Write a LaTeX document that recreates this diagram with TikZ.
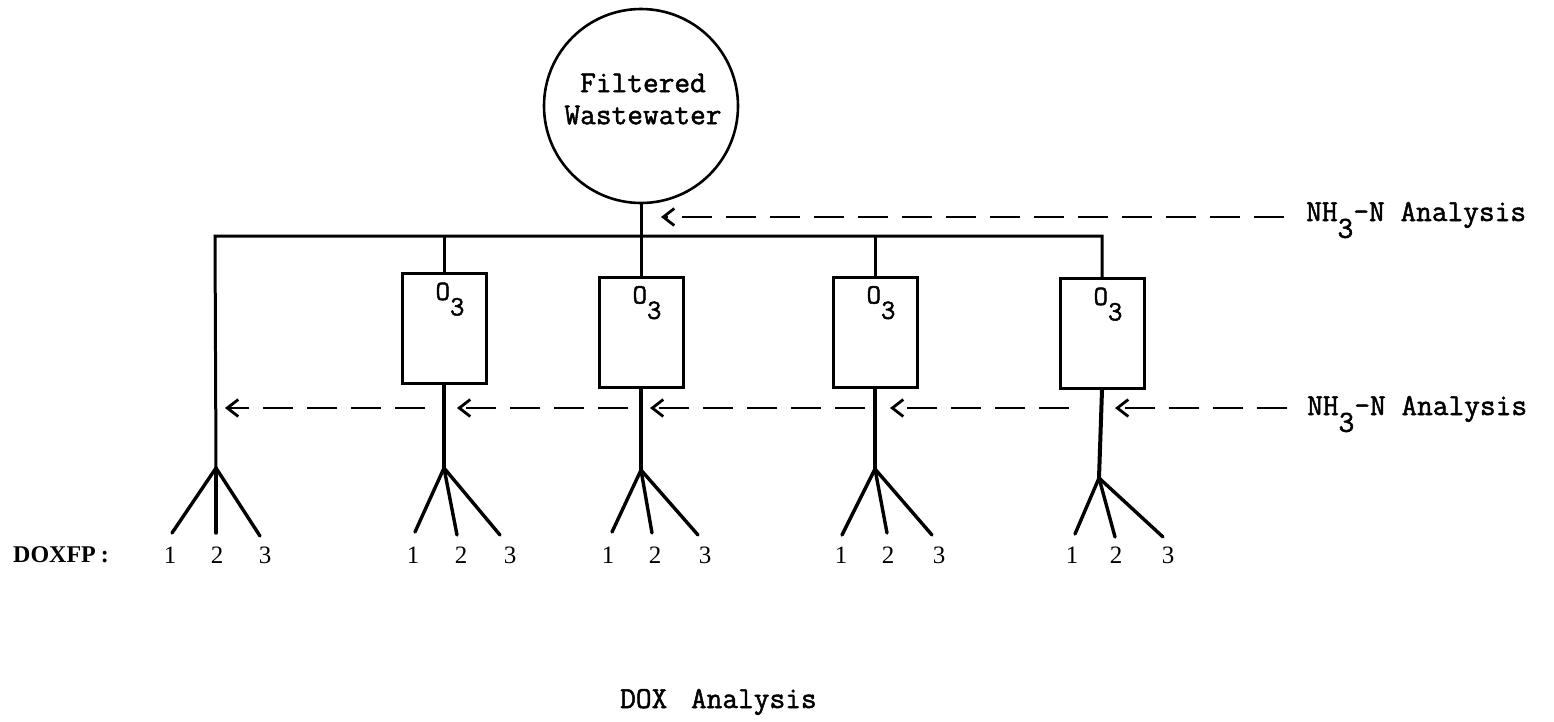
\documentclass[tikz,border=0pt]{standalone}
\usepackage{fontspec}
\setmainfont{Liberation Serif}
\newfontfamily\typefont[FakeBold=1.6]{Latin Modern Mono}
\usetikzlibrary{arrows.meta}
% typewriter-style lowered index (full-size digit dropped below the line)
\newcommand{\dropsub}[1]{\raisebox{-0.55em}{#1}}

\begin{document}
\begin{tikzpicture}[x=1pt,y=-1pt,
  pipe/.style={line width=3pt},
  heavypipe/.style={line width=4pt},
  branch/.style={line width=3.4pt,line cap=round},
  reactor/.style={draw,line width=3pt,minimum width=84pt,minimum height=110pt,inner sep=0pt},
  sample/.style={line width=2.8pt,dash pattern=on 30pt off 14pt,
    -{Straight Barb[length=11pt,width=17pt,line width=2.8pt]}},
  tw/.style={font=\typefont\fontsize{30.5}{32}\selectfont,inner sep=0pt},
  ozone/.style={font=\typefont\fontsize{28}{32}\selectfont,inner sep=0pt,anchor=base},
  num/.style={font=\fontsize{25}{29}\selectfont,inner sep=0pt,anchor=base}
]
\useasboundingbox (0,0) rectangle (1554,721);

% feed tank
\node[circle,draw,line width=2.6pt,minimum size=194pt,inner sep=0pt] (src) at (641,106) {};
\node[tw,align=center] (srctext) at (643,99) {Filtered\\Wastewater};

% ozone reactors
\node[reactor] (oz1) at (444,328.5) {};
\node[reactor] (oz2) at (641,332) {};
\node[reactor] (oz3) at (875,332) {};
\node[reactor] (oz4) at (1102,333.5) {};
\foreach \k in {1,...,4}
  \node[ozone] (o3\k) at ([xshift=6pt,yshift=-28pt]oz\k.north) {O\dropsub{3}};

% branching points above the samples
\coordinate (fk0) at (216,468);
\coordinate (fk1) at (444,468);
\coordinate (fk2) at (641,470);
\coordinate (fk3) at (875,469);
\coordinate (fk4) at (1099,478);

% distribution header
\coordinate (b0) at (215,236);
\draw[pipe] (src.south) -- (oz2.north);
\draw[pipe] (fk0) -- (b0) -- (oz4.north |- b0) -- (oz4.north);
\draw[pipe] (oz1.north |- b0) -- (oz1.north);
\draw[pipe] (oz3.north |- b0) -- (oz3.north);

% reactor outlets
\foreach \k in {1,...,4}
  \draw[heavypipe] (oz\k.south) -- (fk\k);

% sample splits and DOXFP labels
\node[font=\bfseries\fontsize{24}{28}\selectfont,inner sep=0pt,anchor=base west] (doxfp) at (13,562) {DOXFP\hspace{5pt}:};
\foreach \k/\ax/\ay/\bx/\by/\cx/\cy/\la/\lb/\lc in {
    0/172/533/216/533/260/536/170/217/265,
    1/415/532/457/535/500/535/413/461/510,
    2/612/532/652/533/698/535/608/655/705,
    3/842/535/887/533/932/535/841/888/939,
    4/1075/534/1115/537/1163/537/1072/1116/1168} {
  \coordinate (e\k a) at (\ax,\ay);
  \coordinate (e\k b) at (\bx,\by);
  \coordinate (e\k c) at (\cx,\cy);
  \draw[branch] (e\k a) -- (fk\k) -- (e\k c);
  \draw[branch] (fk\k) -- (e\k b);
  \node[num] (n\k a) at (\la,563) {1};
  \node[num] (n\k b) at (\lb,563) {2};
  \node[num] (n\k c) at (\lc,563) {3};
}

% ammonia sampling lines
\node[tw,anchor=base west] (nhup) at (1306,221) {NH\dropsub{3}-N Analysis};
\node[tw,anchor=base west] (nhlow) at (1307,415) {NH\dropsub{3}-N Analysis};
\coordinate (uptap) at (src.south |- 0,217);
\coordinate (uptail) at ([xshift=-22pt]nhup.west);
\draw[sample] (uptail |- uptap) -- ([xshift=20pt]uptap);

\coordinate (lowlevel) at (0,408);
\coordinate (s0) at (fk0 |- lowlevel);
\foreach \k in {1,...,4}
  \coordinate (s\k) at (fk\k |- lowlevel);
\coordinate (lowtail) at ([xshift=-20pt]nhlow.west);
\draw[sample] (lowtail |- lowlevel) -- ([xshift=16pt]s4);
\draw[sample] ([xshift=-30pt]s4) -- ([xshift=15pt]s3);
\draw[sample] ([xshift=-10pt]s3) -- ([xshift=9pt]s2);
\draw[sample] ([xshift=-13pt]s2) -- ([xshift=13pt]s1);
\draw[sample] ([xshift=-19pt]s1) -- ([xshift=9pt]s0);

% total organic halide analysis
\node[tw,anchor=base west] (dox) at (620,708) {DOX\hspace{8pt} Analysis};
\end{tikzpicture}
\end{document}
